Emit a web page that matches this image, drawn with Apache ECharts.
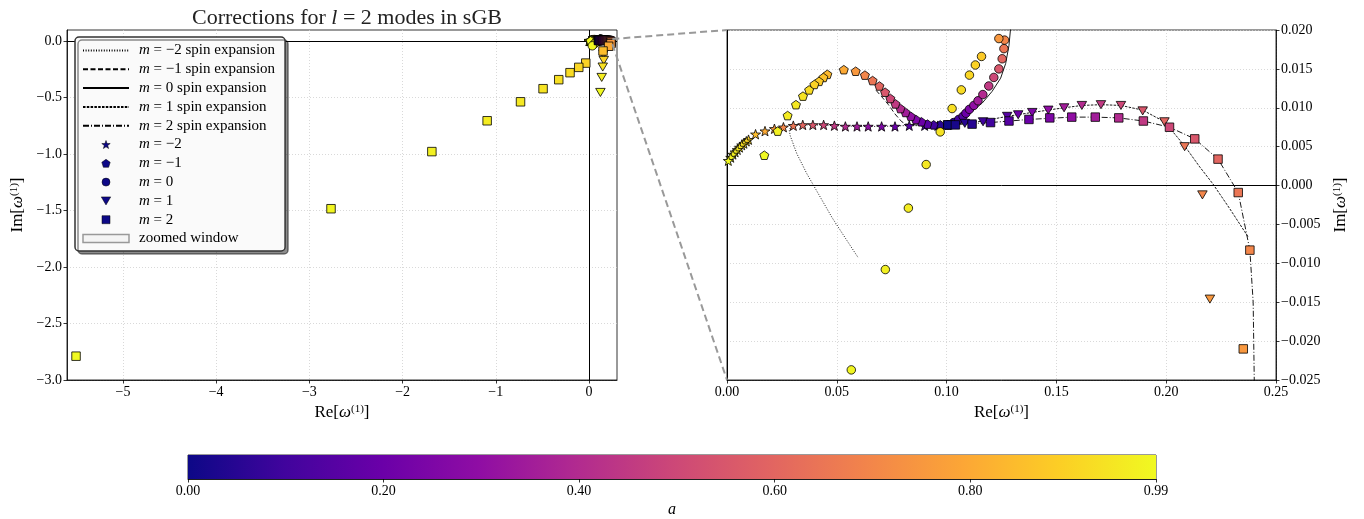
<!DOCTYPE html>
<html>
<head>
<meta charset="utf-8">
<script src="https://cdn.jsdelivr.net/npm/echarts@6/dist/echarts.min.js"></script>
<style>
  html, body { margin: 0; background: #fff; }
  #chart { width: 1364px; height: 519px; }
</style>
</head>
<body>
<div id="chart"></div>
<script>
// points are [Re, Im, a]
const starsM2 = [
  [0.1006, 0.0078, 0.00], [0.0960, 0.0077, 0.05], [0.0900, 0.0077, 0.10], [0.0830, 0.0077, 0.15],
  [0.0765, 0.0076, 0.20], [0.0704, 0.0076, 0.25], [0.0643, 0.0076, 0.30], [0.0592, 0.0076, 0.35],
  [0.0539, 0.0076, 0.40], [0.0489, 0.0077, 0.45], [0.0440, 0.0078, 0.50], [0.0391, 0.0078, 0.55],
  [0.0345, 0.0078, 0.60], [0.0302, 0.0077, 0.65], [0.0257, 0.0075, 0.70], [0.0216, 0.0073, 0.75],
  [0.0173, 0.0070, 0.80], [0.0130, 0.0066, 0.85], [0.0098, 0.0059, 0.90], [0.0088, 0.0057, 0.91],
  [0.0077, 0.0054, 0.92], [0.0067, 0.0052, 0.93], [0.0057, 0.0049, 0.94], [0.0047, 0.0046, 0.95],
  [0.0037, 0.0043, 0.96], [0.0027, 0.0040, 0.97], [0.0017, 0.0036, 0.98], [0.0006, 0.0032, 0.99]
];
const pentM1 = [
  [0.1006, 0.0078, 0.00], [0.0971, 0.0078, 0.05], [0.0941, 0.0078, 0.10], [0.0913, 0.0079, 0.15],
  [0.0885, 0.0082, 0.20], [0.0860, 0.0085, 0.25], [0.0837, 0.0089, 0.30], [0.0813, 0.0094, 0.35],
  [0.0790, 0.0099, 0.40], [0.0767, 0.0105, 0.45], [0.0744, 0.0112, 0.50], [0.0720, 0.0120, 0.55],
  [0.0694, 0.0128, 0.60], [0.0663, 0.0135, 0.65], [0.0628, 0.0142, 0.70], [0.0586, 0.0147, 0.75],
  [0.0532, 0.0149, 0.80], [0.0457, 0.0143, 0.84], [0.0439, 0.0139, 0.86], [0.0419, 0.0134, 0.88],
  [0.0398, 0.0130, 0.90], [0.0374, 0.0123, 0.92], [0.0346, 0.0115, 0.94], [0.0314, 0.0104, 0.95],
  [0.0276, 0.0090, 0.96], [0.0231, 0.0070, 0.97], [0.0170, 0.0039, 0.99]
];
const circM0 = [
  [0.1006, 0.0078, 0.00], [0.1032, 0.0081, 0.05], [0.1055, 0.0085, 0.10], [0.1075, 0.0089, 0.15],
  [0.1088, 0.0093, 0.20], [0.1104, 0.0098, 0.25], [0.1124, 0.0103, 0.30], [0.1143, 0.0109, 0.35],
  [0.1165, 0.0117, 0.40], [0.1192, 0.0128, 0.45], [0.1215, 0.0139, 0.50], [0.1238, 0.0150, 0.55],
  [0.1253, 0.0163, 0.60], [0.1261, 0.0176, 0.65], [0.1264, 0.0187, 0.70], [0.1238, 0.0189, 0.75],
  [0.1159, 0.0166, 0.88], [0.1131, 0.0155, 0.90], [0.1104, 0.0142, 0.91], [0.1067, 0.0123, 0.92],
  [0.1025, 0.0099, 0.93], [0.0971, 0.0069, 0.94], [0.0907, 0.0027, 0.95], [0.0826, -0.0029, 0.96],
  [0.0721, -0.0108, 0.97], [0.0566, -0.0237, 0.98], [0.0350, -0.0400, 0.99]
];
const triM1 = [
  [0.1006, 0.0078, 0.00], [0.1083, 0.0080, 0.05], [0.1166, 0.0082, 0.10], [0.1276, 0.0089, 0.15],
  [0.1326, 0.0091, 0.20], [0.1390, 0.0094, 0.25], [0.1463, 0.0097, 0.30], [0.1535, 0.0100, 0.35],
  [0.1616, 0.0103, 0.40], [0.1703, 0.0104, 0.45], [0.1794, 0.0103, 0.50], [0.1893, 0.0096, 0.55],
  [0.1992, 0.0082, 0.60], [0.2084, 0.0050, 0.65], [0.2165, -0.0012, 0.70], [0.2199, -0.0146, 0.75],
  [0.1550, -0.1150, 0.85], [0.1580, -0.1690, 0.90], [0.1470, -0.2280, 0.93], [0.1360, -0.3200, 0.96],
  [0.1220, -0.4530, 0.99]
];
const sqM2 = [
  [0.1006, 0.0078, 0.00], [0.1040, 0.0078, 0.02], [0.1116, 0.0079, 0.05], [0.1200, 0.0081, 0.10],
  [0.1284, 0.0083, 0.15], [0.1375, 0.0085, 0.20], [0.1470, 0.0087, 0.25], [0.1570, 0.0088, 0.30],
  [0.1677, 0.0088, 0.35], [0.1784, 0.0087, 0.40], [0.1896, 0.0083, 0.45], [0.2015, 0.0075, 0.50],
  [0.2130, 0.0060, 0.55], [0.2236, 0.0034, 0.60], [0.2328, -0.0009, 0.65], [0.2381, -0.0083, 0.70],
  [0.2351, -0.0210, 0.75], [0.2100, -0.0440, 0.80], [0.1500, -0.0860, 0.85], [-0.035, -0.193, 0.90],
  [-0.110, -0.231, 0.91], [-0.204, -0.278, 0.92], [-0.325, -0.340, 0.93], [-0.493, -0.420, 0.94],
  [-0.735, -0.536, 0.95], [-1.093, -0.704, 0.96], [-1.686, -0.977, 0.97], [-2.768, -1.483, 0.98],
  [-5.503, -2.789, 0.99]
];

// spin expansion curves, [Re, Im]
const expM2 = [
  [0.1006, 0.0078], [0.0900, 0.0077], [0.0800, 0.0077], [0.0700, 0.0076], [0.0600, 0.0076],
  [0.0500, 0.0077], [0.0400, 0.0078], [0.0330, 0.0078], [0.0295, 0.0076], [0.0283, 0.0072],
  [0.0288, 0.0064], [0.0318, 0.0041], [0.0364, 0.0015], [0.0425, -0.0015], [0.0478, -0.0041],
  [0.0540, -0.0068], [0.0598, -0.0093]
];
const expM1 = [
  [0.1006, 0.0078], [0.0920, 0.0078], [0.0860, 0.0078], [0.0815, 0.0079], [0.0796, 0.0082],
  [0.0765, 0.0092], [0.0735, 0.0104], [0.0705, 0.0114], [0.0674, 0.0124]
];
const exp0 = [
  [0.1006, 0.0078], [0.1050, 0.0083], [0.1101, 0.0092], [0.1162, 0.0106], [0.1207, 0.0121],
  [0.1246, 0.0138], [0.1269, 0.0157], [0.1284, 0.0180], [0.1291, 0.0201], [0.1296, 0.0230]
];
const expP1 = [
  [0.1006, 0.0078], [0.1083, 0.0080], [0.1166, 0.0083], [0.1276, 0.0089], [0.1390, 0.0094],
  [0.1535, 0.0100], [0.1616, 0.0103], [0.1703, 0.0104], [0.1794, 0.0103], [0.1893, 0.0097],
  [0.1992, 0.0082], [0.2084, 0.0051], [0.2150, 0.0025], [0.2213, 0.0002], [0.2290, -0.0030],
  [0.2373, -0.0066]
];
const expP2 = [
  [0.1006, 0.0078], [0.1200, 0.0081], [0.1375, 0.0085], [0.1570, 0.0088], [0.1677, 0.0088],
  [0.1784, 0.0087], [0.1896, 0.0083], [0.2015, 0.0075], [0.2130, 0.0060], [0.2236, 0.0034],
  [0.2328, -0.0009], [0.2381, -0.0083], [0.2396, -0.0150], [0.2401, -0.0250], [0.2402, -0.0300]
];

const zoomX = [0, 0.25];
const zoomY = [-0.025, 0.02];
const leftX = [-5.6, 0.3];
const leftY = [-3, 0.1];
const leftXTicks = [-5, -4, -3, -2, -1, 0];
const leftYTicks = [-3, -2.5, -2, -1.5, -1, -0.5, 0];
const rightXTicks = [0, 0.05, 0.1, 0.15, 0.2, 0.25];
const rightYTicks = [-0.025, -0.02, -0.015, -0.01, -0.005, 0, 0.005, 0.01, 0.015, 0.02];
const spinRange = [0, 0.99];
const cbarTicks = [0, 0.2, 0.4, 0.6, 0.8, 0.99];
const plasma = ['#0d0887', '#41049d', '#6a00a8', '#8f0da4', '#b12a90', '#cc4778',
                '#e16462', '#f2844b', '#fca636', '#fcce25', '#f0f921'];

const FONT = 'Liberation Serif';
const starPath = 'path://M0,-10 L2.35,-3.24 L9.51,-3.09 L3.8,1.24 L5.88,8.09 L0,4.2 L-5.88,8.09 L-3.8,1.24 L-9.51,-3.09 L-2.35,-3.24 Z';
const pentPath = 'path://M0,-10 L9.51,-3.09 L5.88,8.09 L-5.88,8.09 L-9.51,-3.09 Z';
const triPath = 'path://M-10,-8 L10,-8 L0,9 Z';
const sqPath = 'path://M0,0 L10,0 L10,10 L0,10 Z';

const modes = [
  { name: 'm = −2', pts: starsM2, symbol: starPath, size: 10 },
  { name: 'm = −1', pts: pentM1, symbol: pentPath, size: 9 },
  { name: 'm = 0', pts: circM0, symbol: 'circle', size: 8.5 },
  { name: 'm = 1', pts: triM1, symbol: triPath, size: 9.5 },
  { name: 'm = 2', pts: sqM2, symbol: sqPath, size: 8.5 }
];
const expansions = [
  { name: 'm = −2 spin expansion', pts: expM2, dash: [1, 1.6] },
  { name: 'm = −1 spin expansion', pts: expM1, dash: [5, 2.5] },
  { name: 'm = 0 spin expansion', pts: exp0, dash: 'solid' },
  { name: 'm = 1 spin expansion', pts: expP1, dash: [2.5, 1.3] },
  { name: 'm = 2 spin expansion', pts: expP2, dash: [6, 2, 1, 2] }
];

function fmt(v, d) {
  return (v < -1e-12 ? '−' : '') + Math.abs(v).toFixed(d);
}

const labelStyle = { color: '#000', fontFamily: FONT, fontSize: 14 };
const nameRich = {
  i: { fontStyle: 'italic', fontFamily: FONT, fontSize: 17, color: '#000' },
  s: { fontFamily: FONT, fontSize: 11, color: '#000', verticalAlign: 'top' }
};

function valueAxis(gridIndex, range, ticks, digits, extra) {
  return Object.assign({
    type: 'value', gridIndex: gridIndex, min: range[0], max: range[1],
    axisLine: { show: true, onZero: false, lineStyle: { color: '#000', width: 0.8 } },
    axisTick: { show: true, length: 3.5, customValues: ticks, lineStyle: { color: '#000', width: 0.8 } },
    axisLabel: Object.assign({ margin: 5, customValues: ticks, formatter: v => fmt(v, digits) }, labelStyle),
    splitLine: { show: true, lineStyle: { color: '#cfcfcf', width: 0.8, type: [1, 2] } },
    nameTextStyle: { fontFamily: FONT, fontSize: 17, color: '#000', rich: nameRich }
  }, extra || {});
}

const series = [];
const scatterIdx = [];
[0, 1].forEach(g => {
  expansions.forEach(e => {
    series.push({
      type: 'line', name: e.name, xAxisIndex: g, yAxisIndex: g, data: e.pts,
      symbol: 'none', smooth: false, z: 3, silent: true,
      lineStyle: { color: '#000', width: 0.9, type: e.dash }
    });
  });
  modes.forEach(m => {
    scatterIdx.push(series.length);
    series.push({
      type: 'scatter', name: m.name, xAxisIndex: g, yAxisIndex: g, data: m.pts,
      symbol: m.symbol, symbolSize: m.size, symbolKeepAspect: true, z: 5,
      itemStyle: { color: '#0d0887', borderColor: '#000', borderWidth: 0.8, opacity: 1 }
    });
  });
});

// zoomed window outline on the left panel, plus zero lines
series.push({
  type: 'line', name: 'zoomed window', xAxisIndex: 0, yAxisIndex: 0, symbol: 'none', z: 4, silent: true,
  data: [[zoomX[0], zoomY[1]], [zoomX[1], zoomY[1]], [zoomX[1], zoomY[0]], [zoomX[0], zoomY[0]], [zoomX[0], zoomY[1]]],
  lineStyle: { color: '#999', width: 1.5 },
  markLine: {
    silent: true, symbol: 'none', label: { show: false }, z: 2,
    lineStyle: { color: '#000', width: 1, type: 'solid' },
    data: [{ yAxis: 0 }, { xAxis: 0 }]
  }
});
series.push({
  type: 'line', name: 'zero', xAxisIndex: 1, yAxisIndex: 1, data: [], silent: true,
  markLine: {
    silent: true, symbol: 'none', label: { show: false }, z: 2,
    lineStyle: { color: '#000', width: 1, type: 'solid' },
    data: [{ yAxis: 0 }, { xAxis: 0 }]
  }
});

// colorbar
series.push({
  type: 'custom', xAxisIndex: 2, yAxisIndex: 2, silent: true, data: [[spinRange[0], spinRange[1]]],
  renderItem: (params, api) => {
    const p0 = api.coord([api.value(0), 0]);
    const p1 = api.coord([api.value(1), 1]);
    const stops = plasma.map((c, i) => ({ offset: i / (plasma.length - 1), color: c }));
    return {
      type: 'rect',
      shape: { x: p0[0], y: p1[1], width: p1[0] - p0[0], height: p0[1] - p1[1] },
      style: { fill: new echarts.graphic.LinearGradient(0, 0, 1, 0, stops) }
    };
  }
});

const markerLegend = (name, icon) => ({
  name: name, icon: icon,
  itemStyle: { color: '#0d0887', borderColor: '#000', borderWidth: 0.5 }
});
const lineLegend = name => ({
  name: name,
  itemStyle: { color: 'rgba(0,0,0,0)', borderColor: 'rgba(0,0,0,0)', borderWidth: 0 }
});

const option = {
  animation: false,
  backgroundColor: '#fff',
  title: {
    text: 'Corrections for {i|l} = 2 modes in sGB',
    left: 342, top: 2, textAlign: 'center',
    textStyle: {
      fontFamily: FONT, fontSize: 22, fontWeight: 'normal', color: '#222',
      rich: { i: { fontFamily: FONT, fontSize: 22, fontStyle: 'italic', color: '#222' } }
    }
  },
  grid: [
    { left: 67, top: 30, width: 550, height: 350, show: true, borderColor: '#000', borderWidth: 0.8, backgroundColor: 'transparent' },
    { left: 727, top: 30, width: 549, height: 350, show: true, borderColor: '#000', borderWidth: 0.8, backgroundColor: 'transparent' },
    { left: 188, top: 455, width: 968, height: 25, show: true, borderColor: '#000', borderWidth: 0.8, backgroundColor: 'transparent' }
  ],
  xAxis: [
    valueAxis(0, leftX, leftXTicks, 0, { name: 'Re[{i|ω}{s|(1)}]', nameLocation: 'middle', nameGap: 24 }),
    valueAxis(1, zoomX, rightXTicks, 2, { name: 'Re[{i|ω}{s|(1)}]', nameLocation: 'middle', nameGap: 24 }),
    valueAxis(2, spinRange, cbarTicks, 2, {
      name: 'a', nameLocation: 'middle', nameGap: 23,
      nameTextStyle: { fontFamily: FONT, fontSize: 16, fontStyle: 'italic', color: '#000' },
      splitLine: { show: false }
    })
  ],
  yAxis: [
    valueAxis(0, leftY, leftYTicks, 1, { name: 'Im[{i|ω}{s|(1)}]', nameLocation: 'middle', nameGap: 41, nameRotate: 90 }),
    valueAxis(1, zoomY, rightYTicks, 3, { position: 'right', name: 'Im[{i|ω}{s|(1)}]', nameLocation: 'middle', nameGap: 56, nameRotate: 90 }),
    { type: 'value', gridIndex: 2, min: 0, max: 1, show: false }
  ],
  legend: {
    orient: 'vertical', left: 75, top: 37,
    itemWidth: 46, itemHeight: 8, itemGap: 3.8,
    padding: [6, 10, 5, 7],
    backgroundColor: '#fafafa', borderColor: '#333', borderWidth: 1.5, borderRadius: 4,
    shadowColor: 'rgba(0,0,0,0.45)', shadowOffsetX: 3, shadowOffsetY: 3, shadowBlur: 0,
    selectedMode: false,
    textStyle: {
      fontFamily: FONT, fontSize: 15, color: '#000', lineHeight: 14, padding: [0, 0, 0, 5],
      rich: { i: { fontFamily: FONT, fontSize: 15, fontStyle: 'italic', color: '#000' } }
    },
    formatter: name => name.charAt(0) === 'm' ? '{i|m}' + name.slice(1) : name,
    data: [
      ...expansions.map(e => lineLegend(e.name)),
      markerLegend('m = −2', starPath),
      markerLegend('m = −1', pentPath),
      markerLegend('m = 0', 'circle'),
      markerLegend('m = 1', triPath),
      markerLegend('m = 2', sqPath),
      { name: 'zoomed window', icon: 'rect', itemStyle: { color: '#f4f4f4', borderColor: '#999', borderWidth: 1.5 } }
    ]
  },
  visualMap: {
    type: 'continuous', show: false, min: spinRange[0], max: spinRange[1], dimension: 2,
    seriesIndex: scatterIdx, inRange: { color: plasma }
  },
  series: series
};

const chart = echarts.init(document.getElementById('chart'));
chart.setOption(option);

// dashed connectors between the zoomed window and the right panel
const c1 = chart.convertToPixel({ gridIndex: 0 }, [zoomX[1], zoomY[1]]);
const c2 = chart.convertToPixel({ gridIndex: 1 }, [zoomX[0], zoomY[1]]);
const c3 = chart.convertToPixel({ gridIndex: 0 }, [zoomX[1], zoomY[0]]);
const c4 = chart.convertToPixel({ gridIndex: 1 }, [zoomX[0], zoomY[0]]);
const connStyle = { stroke: '#999', lineWidth: 2, lineDash: [7, 4] };
chart.setOption({
  graphic: [
    { type: 'line', z: 100, silent: true, shape: { x1: c1[0], y1: c1[1], x2: c2[0], y2: c2[1] }, style: connStyle },
    { type: 'line', z: 100, silent: true, shape: { x1: c3[0], y1: c3[1], x2: c4[0], y2: c4[1] }, style: connStyle }
  ]
});
</script>
</body>
</html>
